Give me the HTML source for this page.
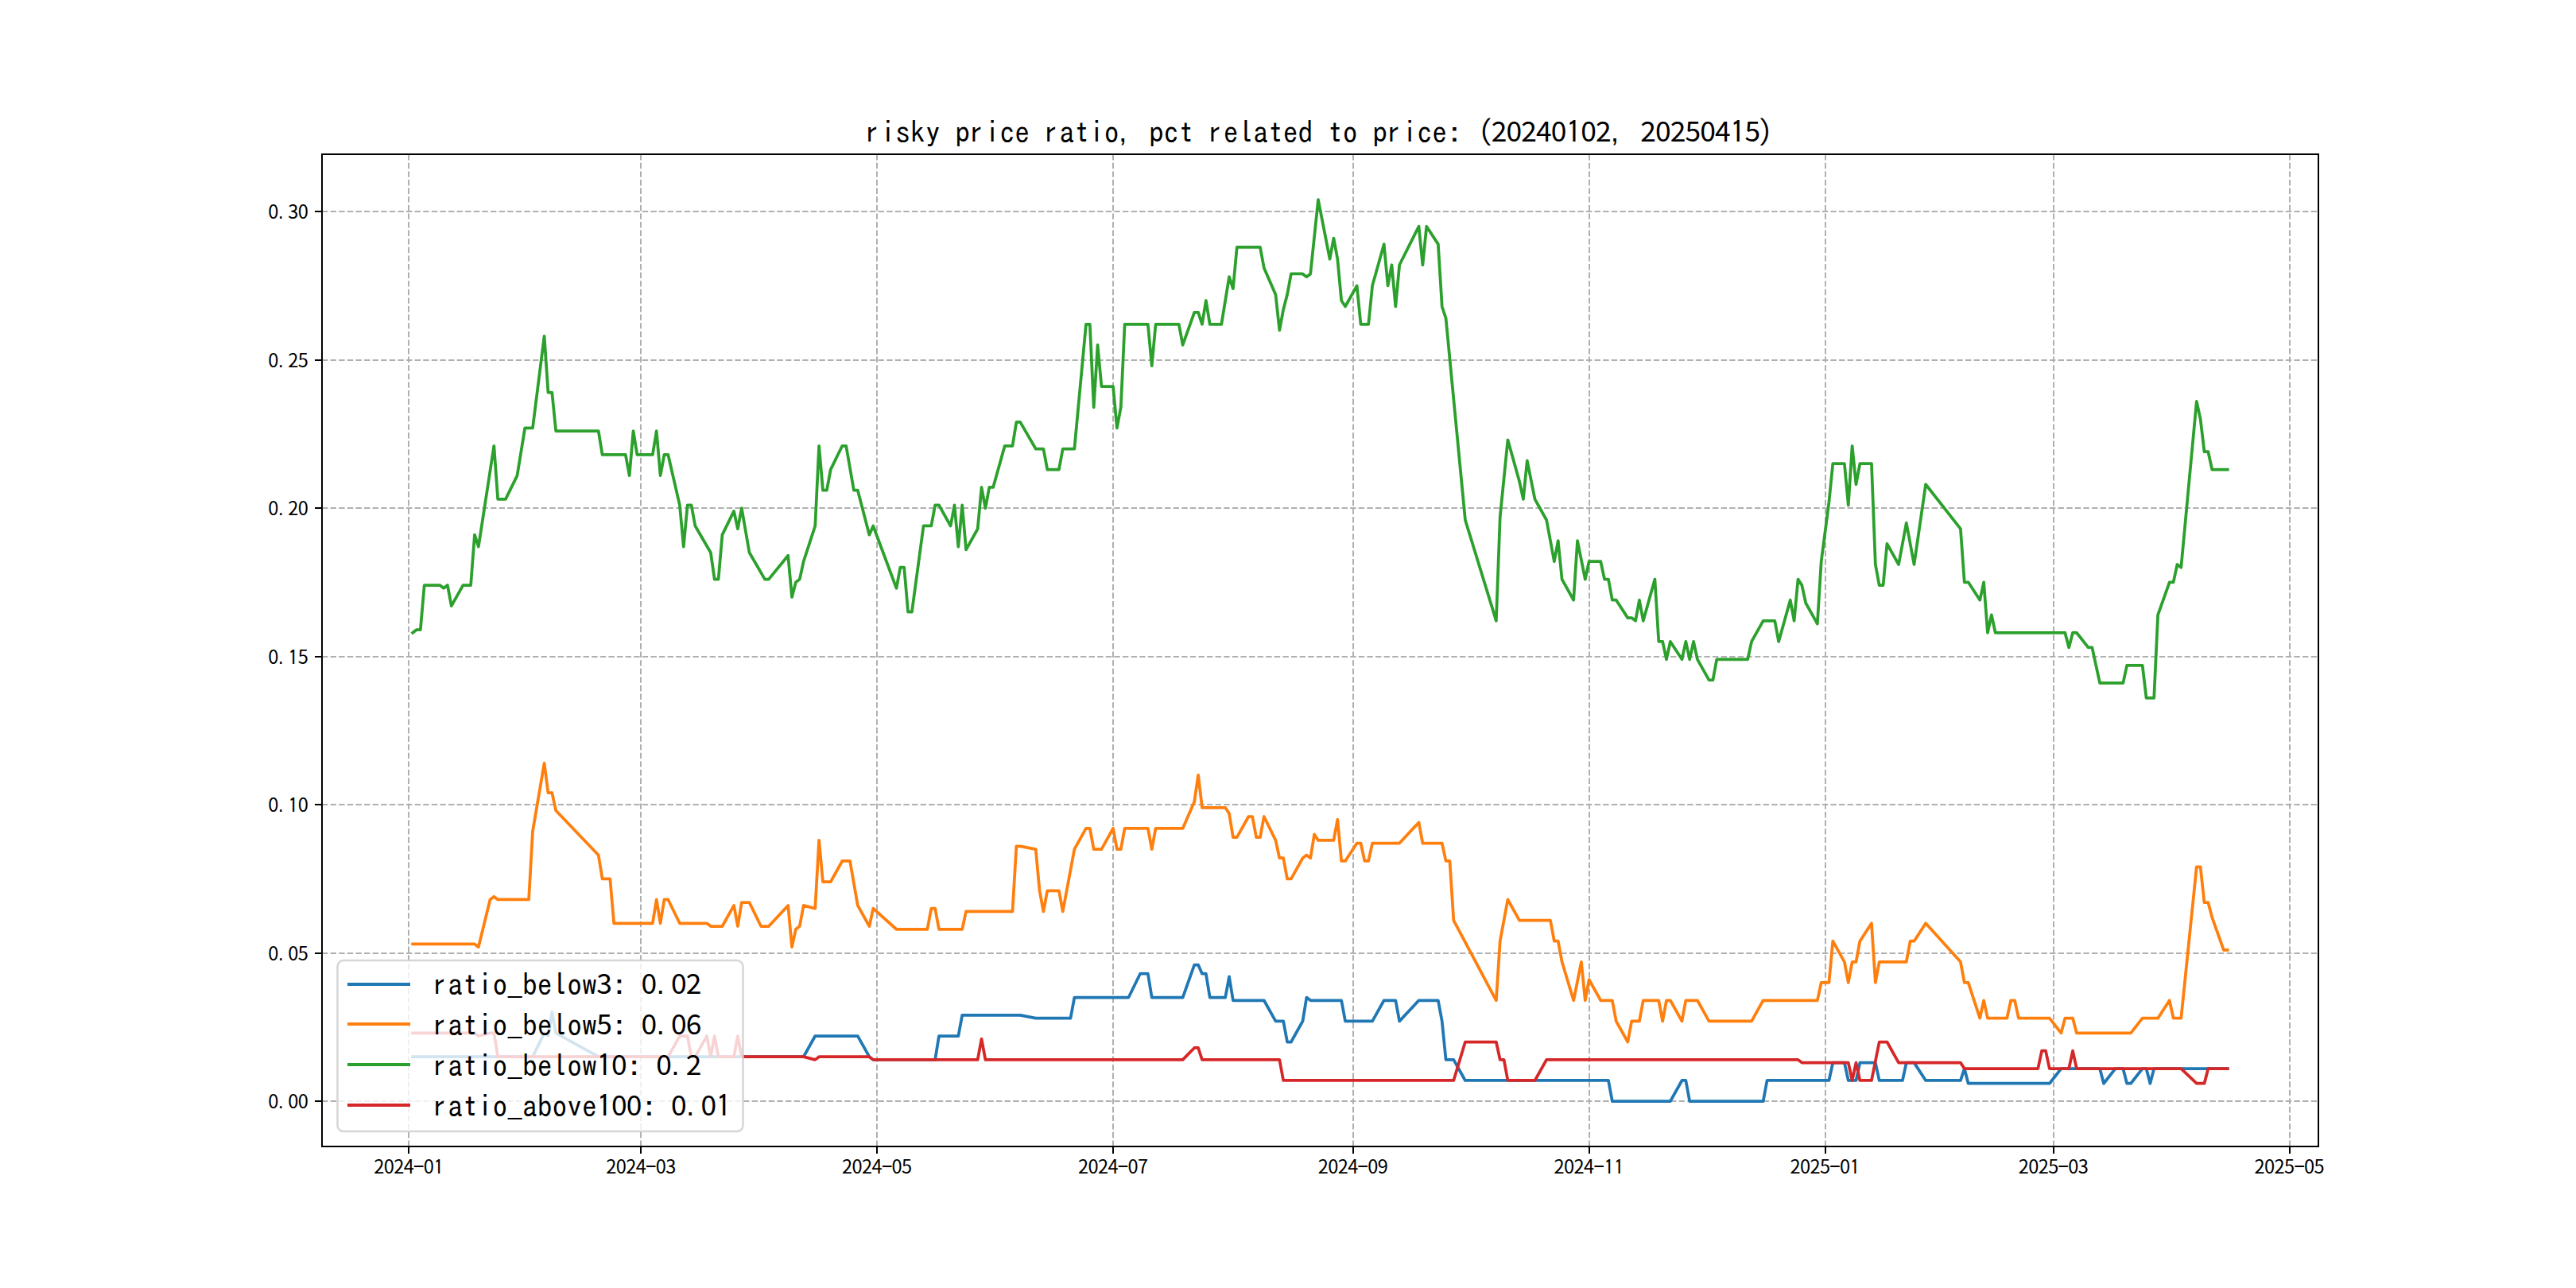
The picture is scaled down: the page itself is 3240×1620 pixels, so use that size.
<!DOCTYPE html>
<html lang="en"><head><meta charset="utf-8"><title>risky price ratio</title>
<style>html,body{margin:0;padding:0;background:#fff;}body{width:3240px;height:1620px;overflow:hidden;}svg{display:block;}text{font-family:"IPAGothic","Liberation Mono",monospace;fill:#000;text-anchor:middle;white-space:pre;}tspan.d{font-family:"Noto Sans CJK SC","Liberation Sans",sans-serif;}tspan.p{font-family:"Liberation Sans",sans-serif;}</style>
</head><body>
<svg width="3240" height="1620" viewBox="0 0 3240 1620">
<rect x="0" y="0" width="3240" height="1620" fill="#ffffff"/>
<defs><clipPath id="ax"><rect x="405.0" y="194.0" width="2511.0" height="1248.0"/></clipPath></defs>
<g stroke="#b0b0b0" stroke-width="2" stroke-dasharray="7.4 3.2" fill="none">
<path d="M514 1441.8V194.4"/>
<path d="M806 1441.8V194.4"/>
<path d="M1103 1441.8V194.4"/>
<path d="M1400 1441.8V194.4"/>
<path d="M1702 1441.8V194.4"/>
<path d="M1999 1441.8V194.4"/>
<path d="M2296 1441.8V194.4"/>
<path d="M2583 1441.8V194.4"/>
<path d="M2880 1441.8V194.4"/>
<path d="M405 1385H2916"/>
<path d="M405 1199H2916"/>
<path d="M405 1012H2916"/>
<path d="M405 826H2916"/>
<path d="M405 639H2916"/>
<path d="M405 453H2916"/>
<path d="M405 266H2916"/>
</g>
<g fill="none" stroke-width="3.75" stroke-linejoin="round" stroke-linecap="square" clip-path="url(#ax)">
<polyline stroke="#1f77b4" points="519.10,1329.15 669.98,1329.15 684.58,1299.31 689.45,1303.04 694.31,1273.20 699.18,1299.31 752.72,1329.15 1010.67,1329.15 1025.27,1303.04 1078.81,1303.04 1093.41,1329.15 1098.27,1332.88 1176.14,1332.88 1181.01,1303.04 1205.35,1303.04 1210.21,1276.93 1283.22,1276.93 1302.69,1280.66 1346.49,1280.66 1351.36,1254.55 1419.49,1254.55 1434.10,1224.71 1443.83,1224.71 1448.70,1254.55 1487.63,1254.55 1502.23,1213.52 1507.10,1213.52 1511.97,1224.71 1516.84,1224.71 1521.70,1254.55 1541.17,1254.55 1546.04,1228.44 1550.90,1258.28 1589.84,1258.28 1604.44,1284.39 1614.18,1284.39 1619.04,1310.50 1623.91,1310.50 1638.51,1284.39 1643.38,1254.55 1648.24,1258.28 1687.18,1258.28 1692.05,1284.39 1726.12,1284.39 1740.72,1258.28 1755.32,1258.28 1760.18,1284.39 1784.52,1258.28 1808.86,1258.28 1813.72,1284.39 1818.59,1332.88 1828.32,1332.88 1842.92,1358.99 2023.00,1358.99 2027.87,1385.10 2100.88,1385.10 2115.48,1358.99 2120.34,1358.99 2125.21,1385.10 2217.68,1385.10 2222.55,1358.99 2300.42,1358.99 2305.29,1336.61 2319.89,1336.61 2324.76,1358.99 2334.49,1358.99 2339.36,1336.61 2358.83,1336.61 2363.69,1358.99 2392.89,1358.99 2397.76,1336.61 2407.50,1336.61 2422.10,1358.99 2465.90,1358.99 2470.77,1344.07 2475.63,1362.72 2577.84,1362.72 2592.44,1344.07 2641.11,1344.07 2645.98,1362.72 2660.58,1344.07 2670.31,1344.07 2675.18,1362.72 2680.05,1362.72 2694.65,1344.07 2699.52,1344.07 2704.38,1362.72 2709.25,1344.07 2801.72,1344.07"/>
<polyline stroke="#ff7f0e" points="519.10,1187.41 596.97,1187.41 601.84,1191.14 616.44,1131.46 621.31,1127.73 626.17,1131.46 665.11,1131.46 669.98,1045.67 684.58,959.88 689.45,997.18 694.31,997.18 699.18,1019.56 752.72,1075.51 757.58,1105.35 767.32,1105.35 772.18,1161.30 820.85,1161.30 825.72,1131.46 830.59,1161.30 835.46,1131.46 840.32,1131.46 854.92,1161.30 888.99,1161.30 893.86,1165.03 908.46,1165.03 923.06,1138.92 927.93,1165.03 932.80,1135.19 942.53,1135.19 957.13,1165.03 966.86,1165.03 991.20,1138.92 996.07,1191.14 1000.93,1168.76 1005.80,1165.03 1010.67,1138.92 1025.27,1142.65 1030.13,1056.86 1035.00,1109.08 1044.74,1109.08 1059.34,1082.97 1069.07,1082.97 1078.81,1138.92 1093.41,1165.03 1098.27,1142.65 1127.47,1168.76 1166.41,1168.76 1171.28,1142.65 1176.14,1142.65 1181.01,1168.76 1210.21,1168.76 1215.08,1146.38 1273.49,1146.38 1278.35,1064.32 1283.22,1064.32 1302.69,1068.05 1307.55,1120.27 1312.42,1146.38 1317.29,1120.27 1331.89,1120.27 1336.76,1146.38 1351.36,1068.05 1365.96,1041.94 1370.83,1041.94 1375.69,1068.05 1385.43,1068.05 1400.03,1041.94 1404.89,1068.05 1409.76,1068.05 1414.63,1041.94 1443.83,1041.94 1448.70,1068.05 1453.56,1041.94 1487.63,1041.94 1502.23,1008.37 1507.10,974.80 1511.97,1015.83 1541.17,1015.83 1546.04,1023.29 1550.90,1053.13 1555.77,1053.13 1570.37,1027.02 1575.24,1027.02 1580.11,1053.13 1584.97,1053.13 1589.84,1027.02 1604.44,1056.86 1609.31,1079.24 1614.18,1079.24 1619.04,1105.35 1623.91,1105.35 1638.51,1079.24 1643.38,1075.51 1648.24,1079.24 1653.11,1049.40 1657.98,1056.86 1677.45,1056.86 1682.31,1030.75 1687.18,1082.97 1692.05,1082.97 1706.65,1060.59 1711.51,1060.59 1716.38,1082.97 1721.25,1082.97 1726.12,1060.59 1760.18,1060.59 1784.52,1034.48 1789.39,1060.59 1813.72,1060.59 1818.59,1082.97 1823.46,1082.97 1828.32,1157.57 1881.86,1258.28 1886.73,1183.68 1896.46,1131.46 1911.06,1157.57 1950.00,1157.57 1954.87,1183.68 1959.73,1183.68 1964.60,1209.79 1979.20,1258.28 1988.93,1209.79 1993.80,1258.28 1998.67,1232.17 2013.27,1258.28 2027.87,1258.28 2032.74,1284.39 2047.34,1310.50 2052.20,1284.39 2061.94,1284.39 2066.81,1258.28 2086.27,1258.28 2091.14,1284.39 2096.01,1258.28 2100.88,1258.28 2115.48,1284.39 2120.34,1258.28 2134.94,1258.28 2149.55,1284.39 2203.08,1284.39 2217.68,1258.28 2285.82,1258.28 2290.69,1235.90 2300.42,1235.90 2305.29,1183.68 2319.89,1209.79 2324.76,1235.90 2329.62,1209.79 2334.49,1209.79 2339.36,1183.68 2353.96,1161.30 2358.83,1235.90 2363.69,1209.79 2397.76,1209.79 2402.63,1183.68 2407.50,1183.68 2422.10,1161.30 2465.90,1209.79 2470.77,1235.90 2475.63,1235.90 2490.24,1280.66 2495.10,1258.28 2499.97,1280.66 2524.30,1280.66 2529.17,1258.28 2534.04,1258.28 2538.91,1280.66 2577.84,1280.66 2592.44,1299.31 2597.31,1280.66 2607.04,1280.66 2611.91,1299.31 2680.05,1299.31 2694.65,1280.66 2714.12,1280.66 2728.72,1258.28 2733.59,1280.66 2743.32,1280.66 2762.79,1090.43 2767.65,1090.43 2772.52,1135.19 2777.39,1135.19 2782.26,1153.84 2796.86,1194.87 2801.72,1194.87"/>
<polyline stroke="#2ca02c" points="519.10,795.76 523.97,792.03 528.83,792.03 533.70,736.08 553.17,736.08 558.04,739.81 562.90,736.08 567.77,762.19 582.37,736.08 592.11,736.08 596.97,672.67 601.84,687.59 621.31,560.77 626.17,627.91 635.91,627.91 650.51,598.07 660.24,538.39 669.98,538.39 684.58,422.76 689.45,493.63 694.31,493.63 699.18,542.12 752.72,542.12 757.58,571.96 786.79,571.96 791.65,598.07 796.52,542.12 801.39,571.96 820.85,571.96 825.72,542.12 830.59,598.07 835.46,571.96 840.32,571.96 854.92,635.37 859.79,687.59 864.66,635.37 869.52,635.37 874.39,661.48 893.86,695.05 898.73,728.62 903.59,728.62 908.46,672.67 923.06,642.83 927.93,665.21 932.80,639.10 942.53,695.05 962.00,728.62 966.86,728.62 991.20,698.78 996.07,751.00 1000.93,732.35 1005.80,728.62 1010.67,706.24 1025.27,661.48 1030.13,560.77 1035.00,616.72 1039.87,616.72 1044.74,590.61 1059.34,560.77 1064.20,560.77 1073.94,616.72 1078.81,616.72 1093.41,672.67 1098.27,661.48 1127.47,739.81 1132.34,713.70 1137.21,713.70 1142.08,769.65 1146.94,769.65 1161.54,661.48 1171.28,661.48 1176.14,635.37 1181.01,635.37 1195.61,661.48 1200.48,635.37 1205.35,687.59 1210.21,635.37 1215.08,691.32 1229.68,665.21 1234.55,612.99 1239.42,639.10 1244.28,612.99 1249.15,612.99 1263.75,560.77 1273.49,560.77 1278.35,530.93 1283.22,530.93 1302.69,564.50 1312.42,564.50 1317.29,590.61 1331.89,590.61 1336.76,564.50 1351.36,564.50 1365.96,407.84 1370.83,407.84 1375.69,512.28 1380.56,433.95 1385.43,486.17 1400.03,486.17 1404.89,538.39 1409.76,512.28 1414.63,407.84 1443.83,407.84 1448.70,460.06 1453.56,407.84 1482.77,407.84 1487.63,433.95 1502.23,392.92 1507.10,392.92 1511.97,407.84 1516.84,378.00 1521.70,407.84 1536.30,407.84 1546.04,348.16 1550.90,363.08 1555.77,310.86 1584.97,310.86 1589.84,336.97 1604.44,370.54 1609.31,415.30 1614.18,389.19 1619.04,370.54 1623.91,344.43 1638.51,344.43 1643.38,348.16 1648.24,344.43 1657.98,251.18 1672.58,325.78 1677.45,299.67 1682.31,325.78 1687.18,378.00 1692.05,385.46 1706.65,359.35 1711.51,407.84 1721.25,407.84 1726.12,359.35 1740.72,307.13 1745.58,359.35 1750.45,333.24 1755.32,385.46 1760.18,333.24 1784.52,284.75 1789.39,333.24 1794.25,284.75 1808.86,307.13 1813.72,385.46 1818.59,400.38 1842.92,654.02 1881.86,780.84 1886.73,650.29 1896.46,553.31 1911.06,605.53 1915.93,627.91 1920.80,579.42 1930.53,627.91 1945.13,654.02 1954.87,706.24 1959.73,680.13 1964.60,728.62 1979.20,754.73 1984.07,680.13 1993.80,728.62 1998.67,706.24 2013.27,706.24 2018.14,728.62 2023.00,728.62 2027.87,754.73 2032.74,754.73 2047.34,777.11 2052.20,777.11 2057.07,780.84 2061.94,754.73 2066.81,780.84 2081.41,728.62 2086.27,806.95 2091.14,806.95 2096.01,829.33 2100.88,806.95 2115.48,829.33 2120.34,806.95 2125.21,829.33 2130.08,806.95 2134.94,829.33 2149.55,855.44 2154.41,855.44 2159.28,829.33 2198.22,829.33 2203.08,806.95 2217.68,780.84 2232.28,780.84 2237.15,806.95 2251.75,754.73 2256.62,780.84 2261.49,728.62 2266.35,736.08 2271.22,758.46 2285.82,784.57 2290.69,706.24 2300.42,631.64 2305.29,583.15 2319.89,583.15 2324.76,635.37 2329.62,560.77 2334.49,609.26 2339.36,583.15 2353.96,583.15 2358.83,709.97 2363.69,736.08 2368.56,736.08 2373.43,683.86 2388.03,709.97 2397.76,657.75 2407.50,709.97 2422.10,609.26 2465.90,665.21 2470.77,732.35 2475.63,732.35 2490.24,754.73 2495.10,732.35 2499.97,795.76 2504.84,773.38 2509.70,795.76 2597.31,795.76 2602.18,814.41 2607.04,795.76 2611.91,795.76 2626.51,814.41 2631.38,814.41 2641.11,859.17 2670.31,859.17 2675.18,836.79 2694.65,836.79 2699.52,877.82 2709.25,877.82 2714.12,773.38 2728.72,732.35 2733.59,732.35 2738.45,709.97 2743.32,713.70 2762.79,504.82 2767.65,527.20 2772.52,568.23 2777.39,568.23 2782.26,590.61 2801.72,590.61"/>
<polyline stroke="#d62728" points="519.10,1299.31 596.97,1299.31 601.84,1303.04 616.44,1299.31 621.31,1299.31 626.17,1329.15 840.32,1329.15 854.92,1303.04 864.66,1303.04 869.52,1329.15 874.39,1329.15 888.99,1303.04 893.86,1329.15 898.73,1303.04 903.59,1329.15 923.06,1329.15 927.93,1303.04 932.80,1329.15 1010.67,1329.15 1025.27,1332.88 1030.13,1329.15 1093.41,1329.15 1098.27,1332.88 1229.68,1332.88 1234.55,1306.77 1239.42,1332.88 1487.63,1332.88 1502.23,1317.96 1507.10,1317.96 1511.97,1332.88 1609.31,1332.88 1614.18,1358.99 1828.32,1358.99 1842.92,1310.50 1881.86,1310.50 1886.73,1332.88 1891.59,1332.88 1896.46,1358.99 1930.53,1358.99 1945.13,1332.88 2261.49,1332.88 2266.35,1336.61 2324.76,1336.61 2329.62,1358.99 2334.49,1336.61 2339.36,1358.99 2353.96,1358.99 2363.69,1310.50 2373.43,1310.50 2388.03,1336.61 2465.90,1336.61 2470.77,1344.07 2563.24,1344.07 2568.11,1321.69 2572.97,1321.69 2577.84,1344.07 2602.18,1344.07 2607.04,1321.69 2611.91,1344.07 2743.32,1344.07 2762.79,1362.72 2772.52,1362.72 2777.39,1344.07 2801.72,1344.07"/>
</g>
<rect x="405" y="194" width="2511" height="1248" fill="none" stroke="#000" stroke-width="2"/>
<g stroke="#000" stroke-width="2">
<path d="M514 1442V1451"/>
<path d="M806 1442V1451"/>
<path d="M1103 1442V1451"/>
<path d="M1400 1442V1451"/>
<path d="M1702 1442V1451"/>
<path d="M1999 1442V1451"/>
<path d="M2296 1442V1451"/>
<path d="M2583 1442V1451"/>
<path d="M2880 1442V1451"/>
<path d="M405 1385H396"/>
<path d="M405 1199H396"/>
<path d="M405 1012H396"/>
<path d="M405 826H396"/>
<path d="M405 639H396"/>
<path d="M405 453H396"/>
<path d="M405 266H396"/>
</g>
<text font-size="25" x="476.73 489.23 501.73 514.23 526.73 539.23 551.73" y="1476.2 1476.2 1476.2 1476.2 1477.83 1476.2 1477.47"><tspan class="d" font-size="23.62">2024</tspan><tspan font-size="28.75">-</tspan><tspan class="d" font-size="23.62">0</tspan>1</text>
<text font-size="25" x="768.75 781.25 793.75 806.25 818.75 831.25 843.75" y="1476.2 1476.2 1476.2 1476.2 1477.83 1476.2 1476.2"><tspan class="d" font-size="23.62">2024</tspan><tspan font-size="28.75">-</tspan><tspan class="d" font-size="23.62">03</tspan></text>
<text font-size="25" x="1065.64 1078.14 1090.64 1103.14 1115.64 1128.14 1140.64" y="1476.2 1476.2 1476.2 1476.2 1477.83 1476.2 1476.2"><tspan class="d" font-size="23.62">2024</tspan><tspan font-size="28.75">-</tspan><tspan class="d" font-size="23.62">05</tspan></text>
<text font-size="25" x="1362.53 1375.03 1387.53 1400.03 1412.53 1425.03 1437.53" y="1476.2 1476.2 1476.2 1476.2 1477.83 1476.2 1476.2"><tspan class="d" font-size="23.62">2024</tspan><tspan font-size="28.75">-</tspan><tspan class="d" font-size="23.62">07</tspan></text>
<text font-size="25" x="1664.28 1676.78 1689.28 1701.78 1714.28 1726.78 1739.28" y="1476.2 1476.2 1476.2 1476.2 1477.83 1476.2 1476.2"><tspan class="d" font-size="23.62">2024</tspan><tspan font-size="28.75">-</tspan><tspan class="d" font-size="23.62">09</tspan></text>
<text font-size="25" x="1961.17 1973.67 1986.17 1998.67 2011.17 2023.67 2036.17" y="1476.2 1476.2 1476.2 1476.2 1477.83 1477.47 1477.47"><tspan class="d" font-size="23.62">2024</tspan><tspan font-size="28.75">-</tspan>11</text>
<text font-size="25" x="2258.05 2270.55 2283.05 2295.55 2308.05 2320.55 2333.05" y="1476.2 1476.2 1476.2 1476.2 1477.83 1476.2 1477.47"><tspan class="d" font-size="23.62">2025</tspan><tspan font-size="28.75">-</tspan><tspan class="d" font-size="23.62">0</tspan>1</text>
<text font-size="25" x="2545.21 2557.71 2570.21 2582.71 2595.21 2607.71 2620.21" y="1476.2 1476.2 1476.2 1476.2 1477.83 1476.2 1476.2"><tspan class="d" font-size="23.62">2025</tspan><tspan font-size="28.75">-</tspan><tspan class="d" font-size="23.62">03</tspan></text>
<text font-size="25" x="2842.09 2854.59 2867.09 2879.59 2892.09 2904.59 2917.09" y="1476.2 1476.2 1476.2 1476.2 1477.83 1476.2 1476.2"><tspan class="d" font-size="23.62">2025</tspan><tspan font-size="28.75">-</tspan><tspan class="d" font-size="23.62">05</tspan></text>
<text font-size="25" x="343.75 353.25 368.75 381.25" y="1394.2 1394.2 1394.2 1394.2"><tspan class="d" font-size="23.62">0</tspan><tspan class="p">.</tspan><tspan class="d" font-size="23.62">00</tspan></text>
<text font-size="25" x="343.75 353.25 368.75 381.25" y="1208.2 1208.2 1208.2 1208.2"><tspan class="d" font-size="23.62">0</tspan><tspan class="p">.</tspan><tspan class="d" font-size="23.62">05</tspan></text>
<text font-size="25" x="343.75 353.25 368.75 381.25" y="1021.2 1021.2 1022.47 1021.2"><tspan class="d" font-size="23.62">0</tspan><tspan class="p">.</tspan>1<tspan class="d" font-size="23.62">0</tspan></text>
<text font-size="25" x="343.75 353.25 368.75 381.25" y="835.2 835.2 836.47 835.2"><tspan class="d" font-size="23.62">0</tspan><tspan class="p">.</tspan>1<tspan class="d" font-size="23.62">5</tspan></text>
<text font-size="25" x="343.75 353.25 368.75 381.25" y="648.2 648.2 648.2 648.2"><tspan class="d" font-size="23.62">0</tspan><tspan class="p">.</tspan><tspan class="d" font-size="23.62">20</tspan></text>
<text font-size="25" x="343.75 353.25 368.75 381.25" y="462.2 462.2 462.2 462.2"><tspan class="d" font-size="23.62">0</tspan><tspan class="p">.</tspan><tspan class="d" font-size="23.62">25</tspan></text>
<text font-size="25" x="343.75 353.25 368.75 381.25" y="275.2 275.2 275.2 275.2"><tspan class="d" font-size="23.62">0</tspan><tspan class="p">.</tspan><tspan class="d" font-size="23.62">30</tspan></text>
<text font-size="37.5" x="1096.12 1116.75 1135.5 1154.25 1173 1191.75 1210.5 1227.38 1248 1266.75 1285.5 1304.25 1321.12 1341.75 1360.5 1379.25 1398 1412.25 1435.5 1454.25 1473 1491.75 1510.5 1527.38 1548 1566.75 1585.5 1604.25 1623 1641.75 1660.5 1679.25 1698 1716.75 1735.5 1752.38 1773 1791.75 1810.5 1829.25 1848 1868.25 1885.5 1904.25 1923 1941.75 1960.5 1979.25 1998 2016.75 2031 2054.25 2073 2091.75 2110.5 2129.25 2148 2166.75 2185.5 2204.25 2220.38" y="180 180 180 180 180 180 180 180 180 180 180 180 180 180 180 180 180 178.1 180 180 180 180 180 180 180 180 180 180 180 180 180 180 180 180 180 180 180 180 180 180 180 180 178.1 178.1 178.1 178.1 178.1 180 178.1 178.1 178.1 180 178.1 178.1 178.1 178.1 178.1 178.1 180 178.1 180">risky price ratio<tspan class="p">,</tspan> pct related to price: (<tspan class="d" font-size="35.44">20240</tspan>1<tspan class="d" font-size="35.44">02</tspan><tspan class="p">,</tspan> <tspan class="d" font-size="35.44">202504</tspan>1<tspan class="d" font-size="35.44">5</tspan>)</text>
<rect x="424.5" y="1208.1" width="510.0" height="215.0" rx="7.5" ry="7.5" fill="#ffffff" fill-opacity="0.8" stroke="#cccccc" stroke-opacity="0.8" stroke-width="2.5"/>
<path d="M439 1238H514" stroke="#1f77b4" stroke-width="4" stroke-linecap="square" fill="none"/>
<text font-size="37.5" x="552 572.62 591.38 610.12 628.88 647.62 666.38 685.12 703.88 722.62 741.38 760.12 778.88 797.62 816.38 830.62 853.88 872.62" y="1252 1252 1252 1252 1252 1249.35 1252 1252 1252 1252 1252 1250.1 1252 1252 1250.1 1250.1 1250.1 1250.1">ratio<tspan class="p" font-size="31.12">_</tspan>below<tspan class="d" font-size="35.44">3</tspan>: <tspan class="d" font-size="35.44">0</tspan><tspan class="p">.</tspan><tspan class="d" font-size="35.44">02</tspan></text>
<path d="M439 1288H514" stroke="#ff7f0e" stroke-width="4" stroke-linecap="square" fill="none"/>
<text font-size="37.5" x="552 572.62 591.38 610.12 628.88 647.62 666.38 685.12 703.88 722.62 741.38 760.12 778.88 797.62 816.38 830.62 853.88 872.62" y="1302.9 1302.9 1302.9 1302.9 1302.9 1300.25 1302.9 1302.9 1302.9 1302.9 1302.9 1301 1302.9 1302.9 1301 1301 1301 1301">ratio<tspan class="p" font-size="31.12">_</tspan>below<tspan class="d" font-size="35.44">5</tspan>: <tspan class="d" font-size="35.44">0</tspan><tspan class="p">.</tspan><tspan class="d" font-size="35.44">06</tspan></text>
<path d="M439 1339H514" stroke="#2ca02c" stroke-width="4" stroke-linecap="square" fill="none"/>
<text font-size="37.5" x="552 572.62 591.38 610.12 628.88 647.62 666.38 685.12 703.88 722.62 741.38 760.12 778.88 797.62 816.38 835.12 849.38 872.62" y="1353.8 1353.8 1353.8 1353.8 1353.8 1351.15 1353.8 1353.8 1353.8 1353.8 1353.8 1353.8 1351.9 1353.8 1353.8 1351.9 1351.9 1351.9">ratio<tspan class="p" font-size="31.12">_</tspan>below1<tspan class="d" font-size="35.44">0</tspan>: <tspan class="d" font-size="35.44">0</tspan><tspan class="p">.</tspan><tspan class="d" font-size="35.44">2</tspan></text>
<path d="M439 1390H514" stroke="#d62728" stroke-width="4" stroke-linecap="square" fill="none"/>
<text font-size="37.5" x="552 572.62 591.38 610.12 628.88 647.62 666.38 685.12 703.88 722.62 741.38 760.12 778.88 797.62 816.38 835.12 853.88 868.12 891.38 910.12" y="1404.7 1404.7 1404.7 1404.7 1404.7 1402.05 1404.7 1404.7 1404.7 1404.7 1404.7 1404.7 1402.8 1402.8 1404.7 1404.7 1402.8 1402.8 1402.8 1404.7">ratio<tspan class="p" font-size="31.12">_</tspan>above1<tspan class="d" font-size="35.44">00</tspan>: <tspan class="d" font-size="35.44">0</tspan><tspan class="p">.</tspan><tspan class="d" font-size="35.44">0</tspan>1</text>
</svg></body></html>
